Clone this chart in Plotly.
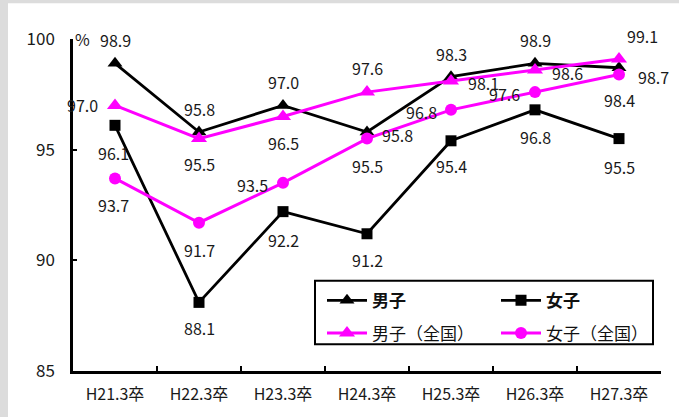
import plotly.graph_objects as go

# 卒業年度
categories = ["H21.3卒", "H22.3卒", "H23.3卒", "H24.3卒", "H25.3卒", "H26.3卒", "H27.3卒"]

# 就職率（%）
boys = [98.9, 95.8, 97.0, 95.8, 98.3, 98.9, 98.7]
girls = [96.1, 88.1, 92.2, 91.2, 95.4, 96.8, 95.5]
boys_national = [97.0, 95.5, 96.5, 97.6, 98.1, 98.6, 99.1]
girls_national = [93.7, 91.7, 93.5, 95.5, 96.8, 97.6, 98.4]

y_ticks = [85, 90, 95, 100]

FONT = "Noto Sans CJK JP, Noto Sans, sans-serif"
MAGENTA = "#ff00ff"
FRAME = "#dcdcdc"

W, H = 679, 417
ML, MR, MT, MB = 73, 18, 39, 43
PW, PH = W - ML - MR, H - MT - MB


def px_x(p):
    return (p - ML) / PW


def px_y(p):
    return (H - MB - p) / PH


series = [
    dict(name="<b>男子</b>", y=boys, color="black", symbol="triangle-up", size=13, width=2.8,
         legend="legend", lx=322, ly=285),
    dict(name="<b>女子</b>", y=girls, color="black", symbol="square", size=11, width=2.8,
         legend="legend2", lx=496, ly=285),
    dict(name="男子（全国）", y=boys_national, color=MAGENTA, symbol="triangle-up", size=14, width=3,
         legend="legend3", lx=322, ly=318),
    dict(name="女子（全国）", y=girls_national, color=MAGENTA, symbol="circle", size=12, width=3,
         legend="legend4", lx=496, ly=318),
]

fig = go.Figure()
for s in series:
    fig.add_trace(go.Scatter(
        x=categories, y=s["y"], name=s["name"], mode="lines+markers",
        line=dict(color=s["color"], width=s["width"]),
        marker=dict(symbol=s["symbol"], size=s["size"], color=s["color"]),
        legend=s["legend"], cliponaxis=False,
    ))

# value label offsets (xshift, yshift) per point
offsets = {
    0: [(0, 23), (0, 23), (0, 23), (30, -3), (0, 23), (0, 23), (34, -9)],
    1: [(-2, -28), (0, -26), (0, -28), (0, -26), (0, -25), (0, -27), (0, -28)],
    2: [(-33, 0), (0, -25), (0, -27), (0, 24), (32, -2), (32, -3), (23, 23)],
    3: [(-2, -27), (0, -27), (-31, -2), (0, -27), (-30, -2), (-31, -2), (0, -26)],
}
for i, s in enumerate(series):
    for j, (cat, v) in enumerate(zip(categories, s["y"])):
        dx, dy = offsets[i][j]
        fig.add_annotation(
            x=cat, y=v, text=f"{v:.1f}", showarrow=False,
            xshift=dx, yshift=dy,
            font=dict(family=FONT, size=16, color="#1a1a1a"),
        )

# "%" unit label
fig.add_annotation(
    x=px_x(73), y=px_y(25), xref="paper", yref="paper", text="%",
    showarrow=False, font=dict(family=FONT, size=16, color="#1a1a1a"),
)

shapes = [
    # grey frame strips along the top and left edges
    dict(type="rect", xref="paper", yref="paper",
         x0=px_x(-5), x1=px_x(W + 5), y0=px_y(3), y1=px_y(-5),
         fillcolor=FRAME, line=dict(width=0), layer="below"),
    dict(type="rect", xref="paper", yref="paper",
         x0=px_x(-5), x1=px_x(8), y0=px_y(H + 5), y1=px_y(-5),
         fillcolor=FRAME, line=dict(width=0), layer="below"),
    # legend box
    dict(type="rect", xref="paper", yref="paper",
         x0=px_x(315), x1=px_x(653), y0=px_y(347), y1=px_y(283),
         fillcolor="rgba(0,0,0,0)", line=dict(color="black", width=2), layer="above"),
]

legend_common = dict(
    font=dict(family=FONT, size=17, color="#111"),
    bgcolor="rgba(0,0,0,0)", borderwidth=0,
    xanchor="left", yanchor="top", tracegroupgap=0,
    itemwidth=40,
)
legends = {s["legend"]: dict(x=px_x(s["lx"]), y=px_y(s["ly"]), **legend_common) for s in series}

fig.update_layout(
    width=W, height=H,
    margin=dict(l=ML, r=MR, t=MT, b=MB),
    paper_bgcolor="white",
    plot_bgcolor="white",
    shapes=shapes,
    showlegend=True,
    **legends,
    xaxis=dict(
        type="category", range=[-0.5, 6.5],
        showline=True, linecolor="black", linewidth=2.5,
        ticks="inside", tickson="boundaries", ticklen=5, tickwidth=2, tickcolor="black",
        showgrid=False, zeroline=False,
        tickfont=dict(family=FONT, size=16, color="#1a1a1a"),
        ticklabelstandoff=7,
    ),
    yaxis=dict(
        range=[85, 100], tickvals=y_ticks,
        showline=True, linecolor="black", linewidth=2.5,
        ticks="inside", ticklen=4, tickwidth=2, tickcolor="black",
        showgrid=False, zeroline=False,
        tickfont=dict(family=FONT, size=17, color="#1a1a1a"),
        ticklabelstandoff=12,
    ),
)

fig.write_html("out.html")
